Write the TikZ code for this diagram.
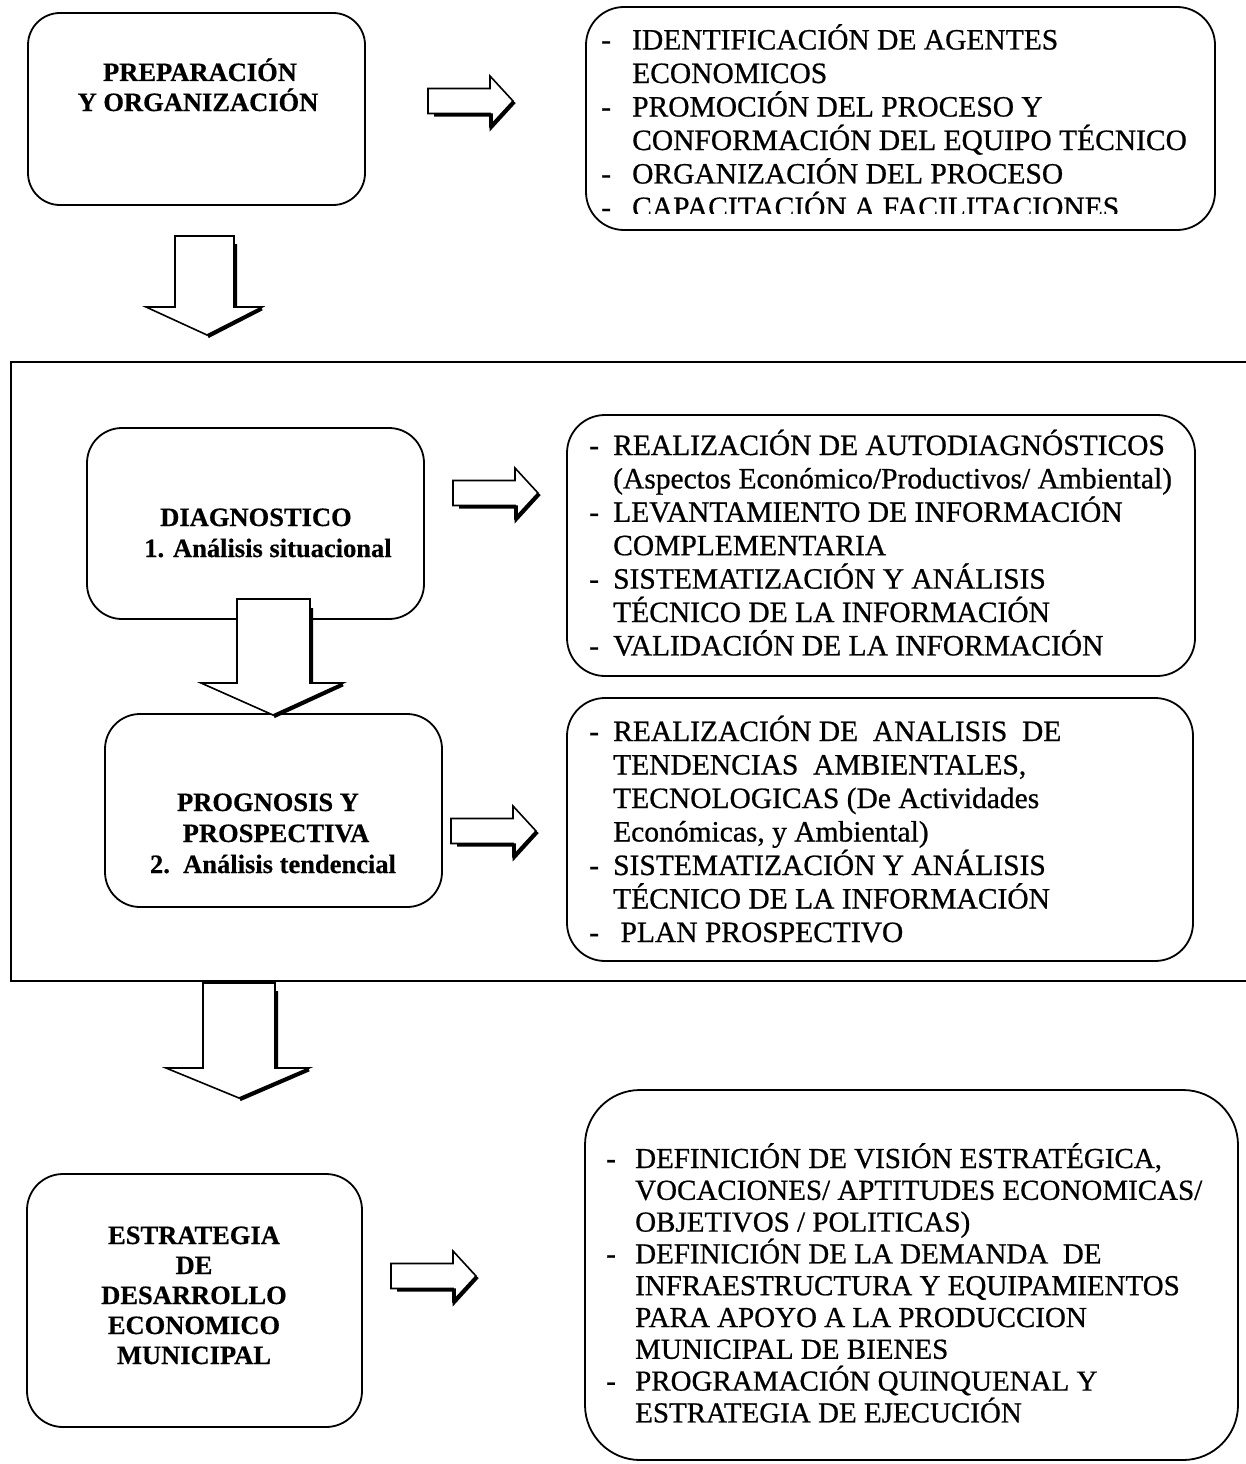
\documentclass[tikz,border=0pt]{standalone}
\usepackage{fontspec}
\setmainfont{Liberation Serif}
\newfontfamily\scanfont{Liberation Serif}[FakeBold=0.7]
\newfontfamily\scanbold{Liberation Serif Bold}[FakeBold=0.5]
\newlength\dg
\newcommand{\litem}[1]{\hbox{\makebox[\dg][l]{-}#1}}
\newcommand{\lcont}[1]{\hbox{\hskip\dg #1}}
\newcommand{\lstack}[2]{\vtop{\baselineskip=#1\lineskiplimit=-1000pt\lineskip=0pt #2}}
% right block arrow: #1 = position of tail centre
\newcommand{\rblock}[1]{%
  \begin{scope}[shift={#1}]
    \draw[arr] (0,12.5) -- (62,12.5) -- (62,25) -- (85,0) -- (62,-25) -- (62,-12.5) -- (0,-12.5) -- cycle;
    \draw[shad] (6,-14) -- (63.2,-14) -- (63.2,-26.5) -- (86.5,-1);
  \end{scope}}
\begin{document}
\begin{tikzpicture}[x=1pt,y=1pt,
  box/.style={draw, line width=1.8pt, rectangle, inner sep=0pt, rounded corners=#1},
  box/.default=35pt,
  lbl/.style={font=\scanbold\fontsize{26.5}{30}\selectfont, anchor=base, inner sep=0pt},
  lst/.style={font=\scanfont\fontsize{29.5}{33.5}\selectfont, anchor=base west, inner sep=0pt},
  arr/.style={draw, fill=white, line width=1.6pt, line join=miter},
  shad/.style={line width=3.2pt},
  frame/.style={line width=1.6pt}]
\useasboundingbox (0,0) rectangle (1246,-1464);
\fill[white] (0,0) rectangle (1246,-1464);

% ---------- boxes ----------
\node[box=32pt, minimum width=337pt, minimum height=192pt] (A) at (196.5,-109) {};
\node[box=38pt, minimum width=629pt, minimum height=223pt] (B) at (900.5,-118.5) {};
\node[box=35pt, minimum width=337pt, minimum height=191pt] (C) at (255.5,-523.5) {};
\node[box=38pt, minimum width=628pt, minimum height=261pt] (D) at (881,-545.5) {};
\node[box=35pt, minimum width=337pt, minimum height=193pt] (E) at (273.5,-810.5) {};
\node[box=38pt, minimum width=626pt, minimum height=263pt] (F) at (880,-829.5) {};
\node[box=36pt, minimum width=335pt, minimum height=253pt] (G) at (194.5,-1300.5) {};
\node[box=55pt, minimum width=653pt, minimum height=370pt] (H) at (911.5,-1275) {};

% ---------- frame ----------
\draw[frame] (1246,-362) -- (11,-362) -- (11,-981) -- (1246,-981);

% ---------- left texts ----------
\node[lbl] (a1) at (200,-81) {PREPARACIÓN};
\node[lbl] (a2) at (198,-111) {Y ORGANIZACIÓN};
\node[lbl] (c1) at (256,-526) {DIAGNOSTICO};
\node[lbl] (c2) at (268,-557) {1. Análisis situacional};
\node[lbl] (e1) at (268,-811) {PROGNOSIS Y};
\node[lbl] (e2) at (276,-842) {PROSPECTIVA};
\node[lbl] (e3) at (273,-873) {2.\ \ Análisis tendencial};
\node[lbl] (g1) at (194,-1244) {ESTRATEGIA};
\node[lbl] (g2) at (194,-1274) {DE};
\node[lbl] (g3) at (194,-1304) {DESARROLLO};
\node[lbl] (g4) at (194,-1334) {ECONOMICO};
\node[lbl] (g5) at (194,-1364) {MUNICIPAL};

% ---------- right texts ----------
\begin{scope}
\clip (580,0) rectangle (1220,-213);
\node[lst] (Btxt) at (601,-49.5) {\setlength\dg{31pt}\lstack{33.5pt}{%
  \litem{IDENTIFICACIÓN DE AGENTES}%
  \lcont{ECONOMICOS}%
  \litem{PROMOCIÓN DEL PROCESO Y}%
  \lcont{CONFORMACIÓN DEL EQUIPO TÉCNICO}%
  \litem{ORGANIZACIÓN DEL PROCESO}%
  \litem{CAPACITACIÓN A FACILITACIONES}}};
\end{scope}

\node[lst] (Dtxt) at (589,-455) {\setlength\dg{24pt}\lstack{33.4pt}{%
  \litem{REALIZACIÓN DE AUTODIAGNÓSTICOS}%
  \lcont{(Aspectos Económico/Productivos/ Ambiental)}%
  \litem{LEVANTAMIENTO DE INFORMACIÓN}%
  \lcont{COMPLEMENTARIA}%
  \litem{SISTEMATIZACIÓN Y ANÁLISIS}%
  \lcont{TÉCNICO DE LA INFORMACIÓN}%
  \litem{VALIDACIÓN DE LA INFORMACIÓN}}};

\node[lst] (Ftxt) at (589,-741) {\setlength\dg{24pt}\lstack{33.5pt}{%
  \litem{REALIZACIÓN DE\ \ ANALISIS\ \ DE}%
  \lcont{TENDENCIAS\ \ AMBIENTALES,}%
  \lcont{TECNOLOGICAS (De Actividades}%
  \lcont{Económicas, y Ambiental)}%
  \litem{SISTEMATIZACIÓN Y ANÁLISIS}%
  \lcont{TÉCNICO DE LA INFORMACIÓN}%
  \litem{\ PLAN PROSPECTIVO}}};

\node[lst, font=\scanfont\fontsize{29}{31.8}\selectfont] (Htxt) at (606,-1168) {\setlength\dg{29pt}\lstack{31.8pt}{%
  \litem{DEFINICIÓN DE VISIÓN ESTRATÉGICA,}%
  \lcont{VOCACIONES/ APTITUDES ECONOMICAS/}%
  \lcont{OBJETIVOS / POLITICAS)}%
  \litem{DEFINICIÓN DE LA DEMANDA\ \ DE}%
  \lcont{INFRAESTRUCTURA Y EQUIPAMIENTOS}%
  \lcont{PARA APOYO A LA PRODUCCION}%
  \lcont{MUNICIPAL DE BIENES}%
  \litem{PROGRAMACIÓN QUINQUENAL Y}%
  \lcont{ESTRATEGIA DE EJECUCIÓN}}};

% ---------- right block arrows ----------
\rblock{(428,-101)}
\rblock{(453,-493)}
\rblock{(451,-831)}
\rblock{(391,-1276)}

% ---------- down block arrows ----------
\draw[arr] (175,-236) -- (234,-236) -- (234,-307) -- (262,-307) -- (207,-335) -- (146,-307) -- (175,-307) -- cycle;
\draw[shad] (235.5,-244) -- (235.5,-306) (262,-308.8) -- (208,-336.6);

\draw[arr] (237,-599) -- (310,-599) -- (310,-683) -- (343,-683) -- (273,-715) -- (201,-683) -- (237,-683) -- cycle;
\draw[shad] (311.5,-608) -- (311.5,-682) (343,-684.8) -- (274,-716.6);

\draw[arr] (203,-983) -- (275,-983) -- (275,-1068) -- (309,-1068) -- (239,-1098) -- (166,-1068) -- (203,-1068) -- cycle;
\draw[shad] (276.5,-991) -- (276.5,-1067) (309,-1069.8) -- (240,-1099.6);
\end{tikzpicture}
\end{document}
